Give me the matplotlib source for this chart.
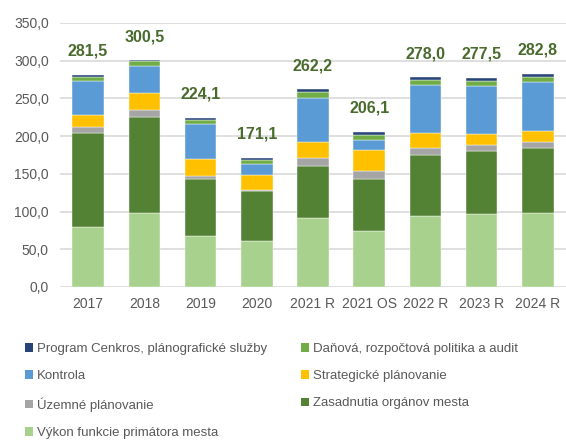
import matplotlib
matplotlib.use("Agg")
import matplotlib.pyplot as plt
from matplotlib.patches import Patch
import numpy as np

plt.rcParams['font.family'] = ['Liberation Sans Narrow', 'Liberation Sans', 'DejaVu Sans']

categories = ["2017", "2018", "2019", "2020", "2021 R", "2021 OS", "2022 R", "2023 R", "2024 R"]

vykon = [79.0, 98.0, 68.0, 60.5, 91.0, 74.3, 94.0, 97.0, 98.0]
zasadnutia = [125.0, 127.5, 75.0, 67.0, 69.5, 69.5, 81.5, 83.0, 86.0]
uzemne = [8.0, 9.0, 3.5, 0.5, 10.0, 9.7, 8.5, 8.5, 8.4]
strategicke = [15.5, 22.5, 23.0, 21.0, 22.0, 28.4, 20.0, 13.7, 14.6]
kontrola = [45.0, 36.0, 46.0, 14.0, 58.0, 13.2, 64.0, 64.2, 64.6]
danova = [6.5, 6.0, 6.5, 6.0, 7.5, 7.0, 6.3, 6.6, 6.6]
cenkros = [2.5, 1.5, 2.1, 2.1, 4.2, 4.0, 3.7, 4.5, 4.6]
totals = [281.5, 300.5, 224.1, 171.1, 262.2, 206.1, 278.0, 277.5, 282.8]

series = [
    ("Výkon funkcie primátora mesta", vykon, "#A9D18E"),
    ("Zasadnutia orgánov mesta", zasadnutia, "#548235"),
    ("Územné plánovanie", uzemne, "#A5A5A5"),
    ("Strategické plánovanie", strategicke, "#FFC000"),
    ("Kontrola", kontrola, "#5B9BD5"),
    ("Daňová, rozpočtová politika a audit", danova, "#70AD47"),
    ("Program Cenkros, plánografické služby", cenkros, "#264478"),
]

fig = plt.figure(figsize=(5.66, 4.43), dpi=100)
ax = fig.add_axes([60/566, (443-287)/443, 506/566, 264/443])

x = np.arange(len(categories))
bottom = np.zeros(len(categories))
handles = {}
for name, vals, col in series:
    ax.bar(x, vals, 0.56, bottom=bottom, color=col, edgecolor='white', linewidth=0.3, zorder=3)
    handles[name] = Patch(facecolor=col, edgecolor='none')
    bottom += np.array(vals)

for xi, t in zip(x, totals):
    ax.annotate(f"{t:.1f}".replace('.', ','), (xi, t), xytext=(0, 17), textcoords='offset points',
                ha='center', va='center', fontsize=11.5, fontweight='bold', color='#4A6B2E')

ax.set_xlim(-0.5, len(categories) - 0.5)
ax.set_ylim(0, 350)
ax.set_yticks(np.arange(0, 351, 50))
ax.set_yticklabels([f"{v:.1f}".replace('.', ',') for v in np.arange(0, 351, 50)])
ax.set_xticks(x)
ax.set_xticklabels(categories)
ax.tick_params(axis='both', length=0, labelsize=10, colors='#595959')
ax.tick_params(axis='y', pad=8)
ax.tick_params(axis='x', pad=7)
ax.yaxis.grid(True, color='#D9D9D9', linewidth=1.2, zorder=0)
ax.set_axisbelow(True)
for s in ax.spines.values():
    s.set_visible(False)

order = ["Program Cenkros, plánografické služby", "Kontrola", "Územné plánovanie",
         "Výkon funkcie primátora mesta", "Daňová, rozpočtová politika a audit",
         "Strategické plánovanie", "Zasadnutia orgánov mesta"]
leg = fig.legend([handles[n] for n in order], order, ncol=2, loc='upper left',
                 bbox_to_anchor=(25/566, 1 - 343/443), frameon=False, fontsize=9.5,
                 handlelength=0.6, handleheight=0.6, handletextpad=0.3,
                 labelspacing=1.15, columnspacing=2.6, borderpad=0, borderaxespad=0)
for t in leg.get_texts():
    t.set_color('#595959')

fig.savefig("out.png", dpi=100)
